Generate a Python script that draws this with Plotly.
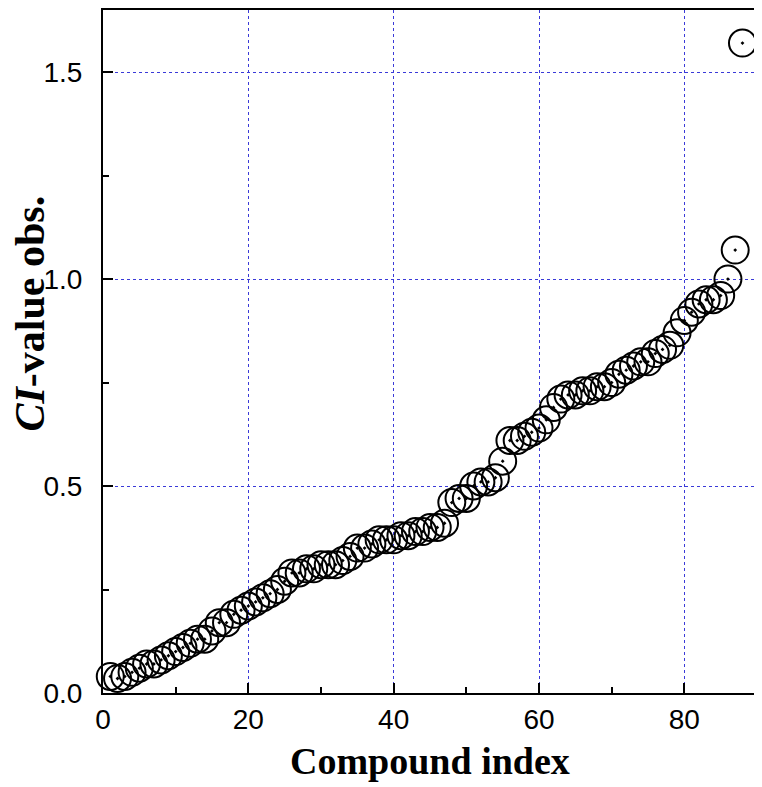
import plotly.graph_objects as go

compound_index = list(range(1, 89))
ci_value_obs = [
    0.04, 0.035, 0.04, 0.05, 0.06, 0.07, 0.07, 0.08, 0.09, 0.10,
    0.11, 0.12, 0.13, 0.13, 0.15, 0.17, 0.17, 0.19, 0.20, 0.21,
    0.22, 0.23, 0.24, 0.25, 0.27, 0.29, 0.29, 0.30, 0.30, 0.31,
    0.31, 0.31, 0.32, 0.33, 0.35, 0.35, 0.36, 0.37, 0.37, 0.37,
    0.38, 0.38, 0.39, 0.39, 0.40, 0.40, 0.41, 0.46, 0.47, 0.47,
    0.50, 0.51, 0.51, 0.52, 0.56, 0.61, 0.61, 0.62, 0.63, 0.64,
    0.66, 0.69, 0.71, 0.72, 0.72, 0.73, 0.73, 0.74, 0.74, 0.75,
    0.77, 0.78, 0.79, 0.80, 0.80, 0.82, 0.83, 0.84, 0.87, 0.90,
    0.92, 0.94, 0.95, 0.95, 0.96, 1.00, 1.07, 1.57,
]

x_tickvals = [0, 20, 40, 60, 80]
y_tickvals = [0.0, 0.5, 1.0, 1.5]
y_ticktext = ["0.0", "0.5", "1.0", "1.5"]

fig = go.Figure()
fig.add_trace(go.Scatter(
    x=compound_index, y=ci_value_obs, mode="markers",
    marker=dict(symbol="circle-open-dot", size=27, color="black",
                line=dict(color="black", width=2)),
    showlegend=False, cliponaxis=False,
))

grid_color = "#3a3ad8"
axis_common = dict(
    showline=True, linecolor="black", linewidth=2, mirror=True,
    ticks="inside", ticklen=10, tickwidth=2, tickcolor="black",
    showgrid=True, gridcolor=grid_color, gridwidth=1, griddash="dot",
    zeroline=False,
)

fig.update_xaxes(range=[0, 90], tickvals=x_tickvals,
                 tickfont=dict(family="Liberation Sans, Arial, sans-serif", size=28, color="black"),
                 minor=dict(dtick=10, tick0=0, ticks="inside", ticklen=6, tickwidth=2,
                            tickcolor="black", showgrid=False),
                 **axis_common)
fig.update_yaxes(range=[0, 1.65], tickvals=y_tickvals, ticktext=y_ticktext,
                 tickfont=dict(family="Liberation Sans, Arial, sans-serif", size=28, color="black"),
                 ticklabelstandoff=13,
                 minor=dict(dtick=0.25, tick0=0, ticks="inside", ticklen=6, tickwidth=2,
                            tickcolor="black", showgrid=False),
                 **axis_common)

fig.update_layout(
    width=754, height=779,
    margin=dict(l=95, r=5, t=0, b=94),
    plot_bgcolor="white", paper_bgcolor="white",
    annotations=[
        dict(text="<b>Compound index</b>", xref="paper", yref="paper",
             x=0.5, y=0, yshift=-68, xanchor="center", yanchor="middle",
             showarrow=False,
             font=dict(family="Liberation Serif, Times New Roman, serif", size=38, color="black")),
        dict(text="<b><i>CI</i>-value obs.</b>", xref="paper", yref="paper",
             x=0, y=0.5, xshift=-74, xanchor="center", yanchor="middle",
             textangle=-90, showarrow=False, yshift=38,
             font=dict(family="Liberation Serif, Times New Roman, serif", size=42, color="black")),
    ],
)

fig.write_html("out.html")
